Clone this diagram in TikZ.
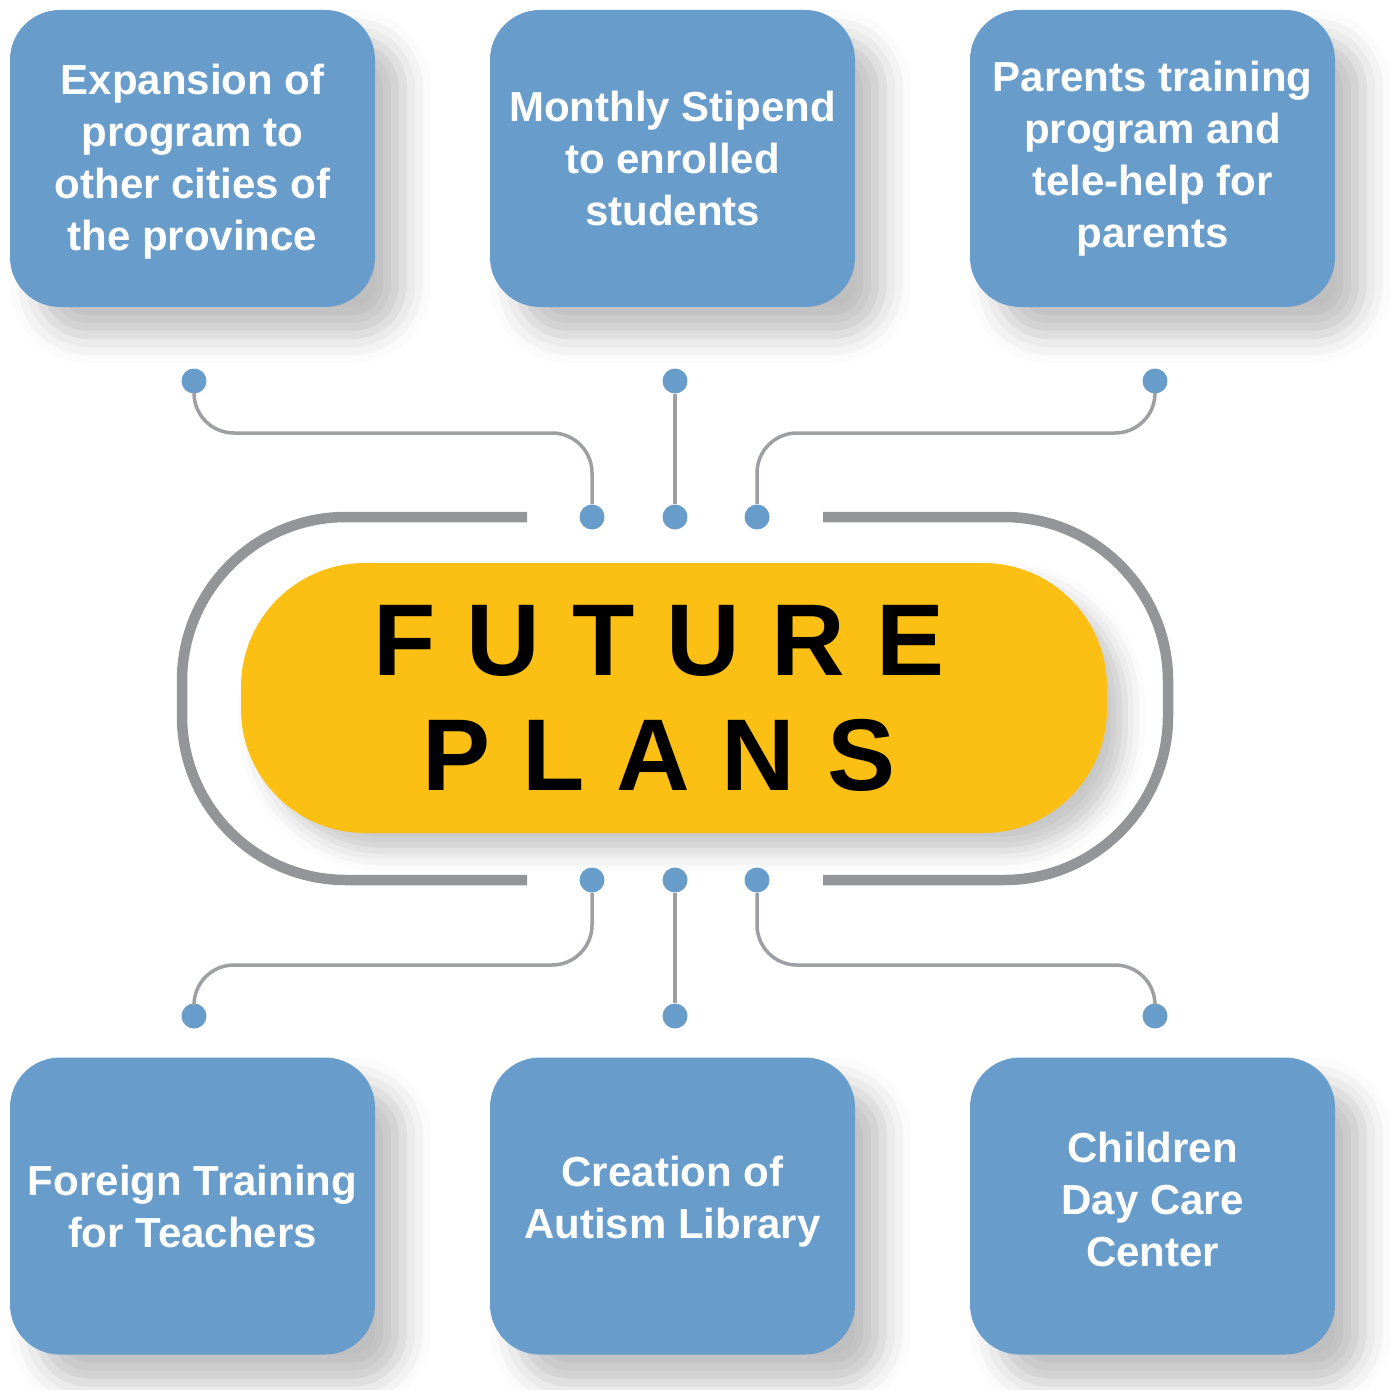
\documentclass[tikz,border=0pt]{standalone}
\usepackage{fontspec}
\setmainfont{Liberation Sans}
\usetikzlibrary{positioning, shapes.geometric, shadows.blur}
\definecolor{planblue}{RGB}{104,156,203}
\definecolor{planyellow}{RGB}{252,192,21}
\definecolor{ringgray}{RGB}{147,149,152}
\definecolor{linegray}{RGB}{157,159,162}
\tikzstyle{planbox} = [rectangle, rounded corners=25pt, minimum width=182.5pt, minimum height=148.5pt, align=center, fill=planblue, text=white, font=\fontsize{21}{26}\selectfont\bfseries, blur shadow={shadow xshift=14pt, shadow yshift=-14pt, shadow blur radius=14pt, shadow opacity=25}]
\tikzstyle{hub} = [rectangle, rounded corners=62pt, minimum width=433pt, minimum height=135pt, fill=planyellow, blur shadow={shadow xshift=9pt, shadow yshift=-9pt, shadow blur radius=10pt, shadow opacity=22}]
\tikzstyle{hubtext} = [align=center, text=black, font=\fontsize{51}{57.5}\selectfont\bfseries\addfontfeature{LetterSpace=31}]
\tikzstyle{knob} = [circle, fill=planblue, minimum size=12.5pt, inner sep=0pt]
\tikzstyle{wire} = [draw=linegray, line width=1.75pt, rounded corners=20pt]
\tikzstyle{ring} = [draw=ringgray, line width=5.25pt, rounded corners=82pt]

\begin{document}
\begin{tikzpicture}[x=0.5pt, y=-0.5pt, node distance=240pt]
        \useasboundingbox (0,0) rectangle (1390,1390);

        % outer frame round the centre
        \draw [ring] (527,517) -- (182,517) -- (182,880) -- (527,880);
        \draw [ring] (823,517) -- (1168,517) -- (1168,880) -- (823,880);

        \node (plans) [hub] at (674,698) {};
        \node (title) [hubtext, xshift=-7.5pt] at (plans) {FUTURE\\PLANS};

        \node (expansion) [planbox, text depth=1.4pt] at (192.5,158.5) {Expansion of\\program to\\other cities of\\the province};
        \node (stipend) [planbox, right of=expansion] {Monthly Stipend\\to enrolled\\students};
        \node (parents) [planbox, right of=stipend] {Parents training\\program and\\tele-help for\\parents};
        \node (foreign) [planbox] at (192.5,1206) {Foreign Training\\for Teachers};
        \node (library) [planbox, right of=foreign, text depth=8.4pt] {Creation of\\Autism Library};
        \node (daycare) [planbox, right of=library, text depth=7pt] {Children\\Day Care\\Center};

        % dots
        \node (tl) [knob] at (194,381) {};
        \node (tc) [knob] at (675,381) {};
        \node (tr) [knob] at (1155,381) {};
        \node (ul) [knob] at (592,517) {};
        \node (uc) [knob] at (675,517) {};
        \node (ur) [knob] at (757,517) {};
        \node (dl) [knob] at (592,880) {};
        \node (dc) [knob] at (675,880) {};
        \node (dr) [knob] at (757,880) {};
        \node (bl) [knob] at (194,1016) {};
        \node (bc) [knob] at (675,1016) {};
        \node (br) [knob] at (1155,1016) {};

        \draw [wire] (tl) -- ++(0,52) -| (ul);
        \draw [wire] (tc) -- (uc);
        \draw [wire] (tr) -- ++(0,52) -| (ur);
        \draw [wire] (dl) -- ++(0,85) -| (bl);
        \draw [wire] (dc) -- (bc);
        \draw [wire] (dr) -- ++(0,85) -| (br);

\end{tikzpicture}
\end{document}
